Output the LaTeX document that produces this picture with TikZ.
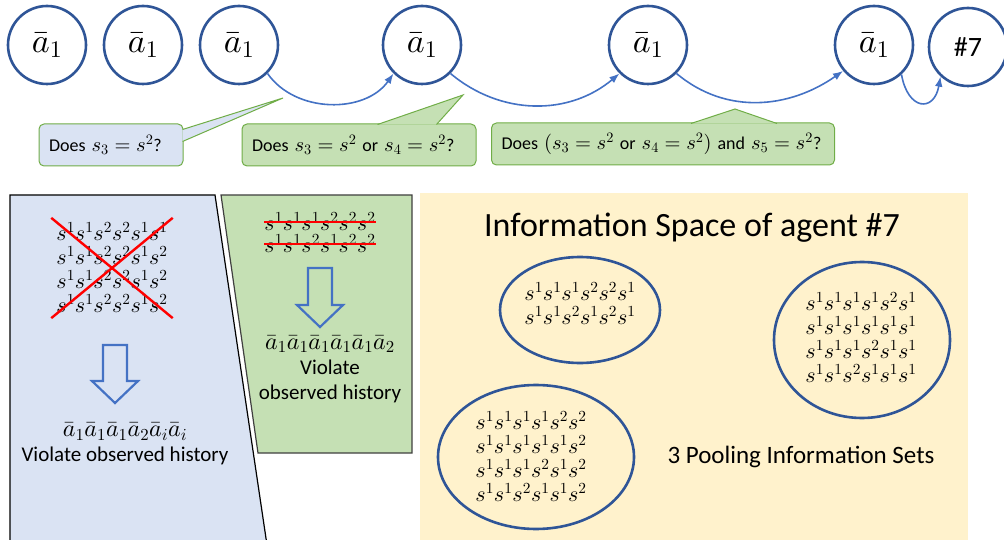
\documentclass[tikz,border=0pt]{standalone}
\usepackage{fontspec}
\setmainfont{Carlito}
\DeclareFontShape{OML}{cmm}{m}{it}{<-> cmmi10}{}
\DeclareFontShape{OT1}{cmr}{m}{n}{<-> cmr10}{}
\DeclareFontShape{OMS}{cmsy}{m}{n}{<-> cmsy10}{}
\usetikzlibrary{arrows.meta,positioning,calc,shapes.geometric}
\definecolor{ringblue}{HTML}{2F5597}
\definecolor{flowblue}{HTML}{4472C4}
\definecolor{paneblue}{HTML}{DAE3F3}
\definecolor{panegreen}{HTML}{C5E0B4}
\definecolor{edgegreen}{HTML}{70AD47}
\definecolor{paneyellow}{HTML}{FFF2CC}
% hollow block arrow: centre x, top y, tip y
\newcommand\hollowdown[3]{%
  \draw[hollow] (#1-12,#2) -- (#1+12,#2) -- (#1+12,#3-22) -- (#1+23,#3-22) -- (#1,#3)
    -- (#1-23,#3-22) -- (#1-12,#3-22) -- cycle;}
\newcommand\bigmath[1]{{\fontsize{24}{25}\selectfont$#1$}}
\newcommand\qmath[1]{{\fontsize{20.5}{22}\selectfont$#1$}}

\begin{document}
\begin{tikzpicture}[x=1pt, y=-1pt, >=Latex,
agent/.style={circle, draw=ringblue, line width=2.6pt, minimum size=78pt, inner sep=0pt, font=\fontsize{34}{36}\selectfont},
query/.style={draw=edgegreen, line width=1pt, rounded corners=5pt, minimum height=42pt, inner xsep=10pt, inner ysep=0pt, align=left, font=\fontsize{18}{22}\selectfont},
infoset/.style={ellipse, draw=ringblue, line width=2.6pt, inner sep=0pt},
seqs/.style={align=center, font=\fontsize{22}{24}\selectfont},
verdict/.style={align=center, font=\fontsize{21}{25}\selectfont},
flow/.style={->, flowblue, line width=1.6pt},
strike/.style={red, line width=2.4pt},
hollow/.style={draw=flowblue, line width=2.2pt}]
\useasboundingbox (0,0) rectangle (1004,540);
% background panes
\fill[paneyellow] (420,193) rectangle (968,545);
\filldraw[fill=paneblue, draw=black, line width=1.2pt] (10,545) -- (10,195) -- (215,195) -- (267,545);
\filldraw[fill=panegreen, draw=black!75, line width=1.2pt] (221,195) -- (412,195) -- (412,453) -- (258,453) -- cycle;
% agents in a row
\node[agent] (c1) at (47,45) {$\bar a_1$};
\node[agent] (c2) at (143,45) {$\bar a_1$};
\node[agent] (c3) at (239,45) {$\bar a_1$};
\node[agent] (c4) at (422,45) {$\bar a_1$};
\node[agent] (c5) at (648,45) {$\bar a_1$};
\node[agent] (c6) at (874,45) {$\bar a_1$};
\node[agent, font=\fontsize{28}{32}\selectfont] (c7) at (968,47) {\#7};
\draw[flow] (c3.-45) to[out=-55, in=-125] (c4.-135);
\draw[flow] (c4.-45) to[out=-40, in=-140] (c5.-135);
\draw[flow] (c5.-45) to[out=-40, in=-145] (c6.-140);
\draw[flow] (c6.-47) to[out=-80, in=-100, looseness=2.4] (c7.-133);
% queries
\node[query, fill=paneblue, text width=124pt] (q1) at (111,145) {Does \qmath{s_3=s^2}?};
\node[query, fill=panegreen, text width=214pt] (q2) at (359,145) {Does \qmath{s_3=s^2} or \qmath{s_4=s^2}?};
\node[query, fill=panegreen, text width=323pt] (q3) at (663,144) {Does \qmath{(s_3=s^2} or \qmath{s_4=s^2)} and \qmath{s_5=s^2}?};
\coordinate (t1) at (283,98);
\coordinate (t2) at (463,95);
\coordinate (t3) at (735,109);
\filldraw[fill=paneblue, draw=edgegreen, line width=1pt] ($(q1.north east)+(-1,6)$) -- (t1) -- ($(q1.north east)+(-1,18)$);
\filldraw[fill=panegreen, draw=edgegreen, line width=1pt] ($(q2.north west)+(136,1)$) -- (t2) -- ($(q2.north west)+(195,1)$);
\filldraw[fill=panegreen, draw=edgegreen, line width=1pt] ($(q3.north west)+(200,1)$) -- (t3) -- ($(q3.north west)+(286,1)$);
% left pane
\node[seqs, inner sep=5pt] (sx) at (112,268) {$s^1s^1s^2s^2s^1s^1$\\$s^1s^1s^2s^2s^1s^2$\\$s^1s^1s^2s^2s^1s^2$\\$s^1s^1s^2s^2s^1s^2$};
\draw[strike] (sx.north west) -- (sx.south east);
\draw[strike] (sx.north east) -- (sx.south west);
\hollowdown{115}{345}{403}
\node[verdict] (vb) at (125,444) {\bigmath{\bar a_1\bar a_1\bar a_1\bar a_2\bar a_i\bar a_i}\\Violate observed history};
% middle pane
\node[seqs, inner sep=0pt] (g1) at (320,222) {$s^1s^1s^1s^2s^2s^2$};
\node[seqs, inner sep=0pt] (g2) at (320,244) {$s^1s^1s^2s^1s^2s^2$};
\draw[strike] (g1.west) -- (g1.east);
\draw[strike] (g2.west) -- (g2.east);
\hollowdown{320}{268}{327}
\node[verdict] (vg) at (330,369) {\bigmath{\bar a_1\bar a_1\bar a_1\bar a_1\bar a_1\bar a_2}\\Violate\\observed history};
% information space
\node[font=\fontsize{34}{40}\selectfont] (ttl) at (692,228) {Information Space of agent \#7};
\node[infoset, minimum width=160pt, minimum height=106pt] (e1) at (580,310) {};
\node[infoset, minimum width=176pt, minimum height=156pt] (e2) at (862,340) {};
\node[infoset, minimum width=196pt, minimum height=144pt] (e3) at (536,457) {};
\node[seqs] (s1) at (580,304) {$s^1s^1s^1s^2s^2s^1$\\$s^1s^1s^2s^1s^2s^1$};
\node[seqs] (s2) at (861,338) {$s^1s^1s^1s^1s^2s^1$\\$s^1s^1s^1s^1s^1s^1$\\$s^1s^1s^1s^2s^1s^1$\\$s^1s^1s^2s^1s^1s^1$};
\node[seqs] (s3) at (531,457) {$s^1s^1s^1s^1s^2s^2$\\$s^1s^1s^1s^1s^1s^2$\\$s^1s^1s^1s^2s^1s^2$\\$s^1s^1s^2s^1s^1s^2$};
\node[font=\fontsize{25}{30}\selectfont] (pool) at (801,457) {3 Pooling Information Sets};
\end{tikzpicture}
\end{document}
